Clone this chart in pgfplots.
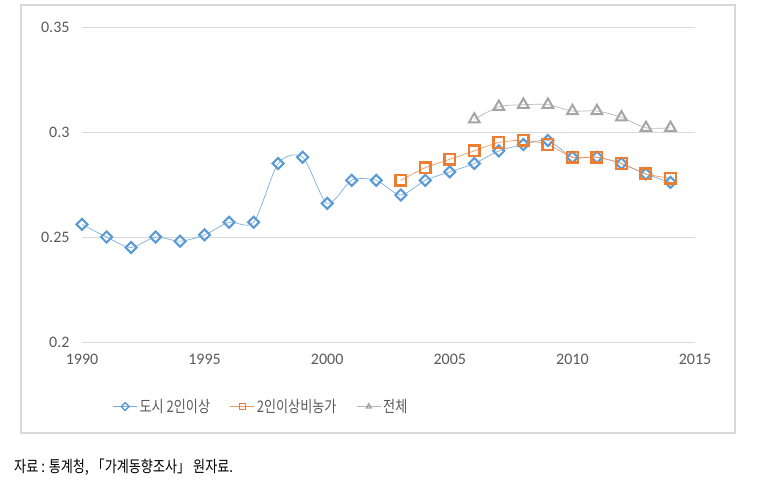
\documentclass[border=0pt]{standalone}
\usepackage{fontspec}
\setmainfont{Carlito}
\newfontfamily\kr{Noto Sans CJK KR}[FakeStretch=0.82]
\usepackage{pgfplots}
\pgfplotsset{compat=1.18}

\definecolor{cblue}{HTML}{5B9BD5}
\definecolor{corange}{HTML}{ED7D31}
\definecolor{cgray}{HTML}{A5A5A5}
\definecolor{cgrid}{HTML}{D9D9D9}
\definecolor{ctext}{HTML}{595959}

\begin{document}
\begin{tikzpicture}
\useasboundingbox (0,0) rectangle (757bp,489bp);
\draw[cgrid, line width=1.5bp] (21bp,56bp) rectangle (735bp,484bp);

\begin{axis}[
    at={(82bp,147bp)}, anchor=south west,
    scale only axis, width=613bp, height=315bp,
    xmin=1990, xmax=2015, ymin=0.2, ymax=0.35,
    xtick={1990,1995,...,2015},
    ytick={0.2,0.25,0.3,0.35},
    yticklabels={0.2,0.25,0.3,0.35},
    xticklabel={\pgfmathprintnumber[1000 sep=]{\tick}},
    axis line style={draw=none},
    major tick length=0pt,
    ymajorgrids, grid style={cgrid, line width=0.8bp},
    tick label style={font=\fontsize{16bp}{17bp}\selectfont, text=ctext},
    /pgf/number format/assume math mode=true,
    yticklabel style={xshift=-9bp},
    xticklabel style={yshift=-9bp},
    clip=false,
    legend columns=3,
    legend style={draw=none, fill=none, at={(axis description cs:0.05,-0.205)}, anchor=west,
        font=\kr\fontsize{16bp}{17bp}\selectfont, text=ctext,
        /tikz/every even column/.append style={column sep=18bp},
        inner sep=0pt},
    legend image code/.code={\draw[mark repeat=2,mark phase=2,#1,mark size=2.8bp,
        every mark/.append style={line width=1.4bp}]
        plot coordinates {(0bp,0bp) (12bp,0bp) (24bp,0bp)};},
]
\addplot[cblue!80, line width=0.7bp, smooth, tension=0.45, mark=square,
    mark size=3.9bp, mark options={rotate=45, draw=cblue, fill=white, line width=2.1bp, solid}]
coordinates {
(1990,0.256) (1991,0.250) (1992,0.245) (1993,0.250) (1994,0.248)
(1995,0.251) (1996,0.257) (1997,0.257) (1998,0.285) (1999,0.288)
(2000,0.266) (2001,0.277) (2002,0.277) (2003,0.270) (2004,0.277)
(2005,0.281) (2006,0.285) (2007,0.291) (2008,0.294) (2009,0.296)
(2010,0.288) (2011,0.288) (2012,0.285) (2013,0.280) (2014,0.276)
};
\addlegendentry{도시 2인이상}
\addplot[corange!80, line width=0.7bp, smooth, tension=0.45, mark=square,
    mark size=5.3bp, mark options={draw=corange, fill=white, line width=2.4bp, solid}]
coordinates {
(2003,0.277) (2004,0.283) (2005,0.287) (2006,0.291) (2007,0.295)
(2008,0.296) (2009,0.294) (2010,0.288) (2011,0.288) (2012,0.285)
(2013,0.280) (2014,0.278)
};
\addlegendentry{2인이상비농가}
\addplot[cgray!80, line width=0.7bp, smooth, tension=0.45, mark=triangle,
    mark size=6.2bp, mark options={draw=cgray, fill=white, line width=2bp, solid}]
coordinates {
(2006,0.306) (2007,0.312) (2008,0.313) (2009,0.313) (2010,0.310)
(2011,0.310) (2012,0.307) (2013,0.302) (2014,0.302)
};
\addlegendentry{전체}
\end{axis}

\node[anchor=west, font=\kr\fontsize{16bp}{18bp}\selectfont, inner sep=0pt]
    at (14bp,22bp) {자료 : 통계청, 「가계동향조사」 원자료.};
\end{tikzpicture}
\end{document}
